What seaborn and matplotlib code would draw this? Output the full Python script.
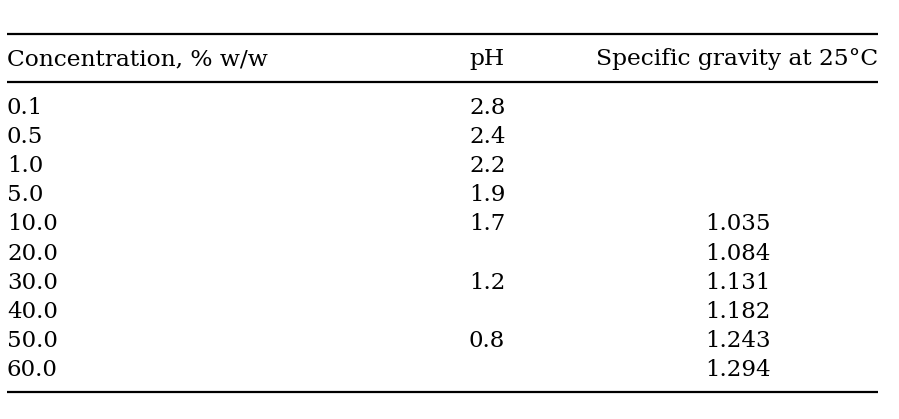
import matplotlib
matplotlib.use('Agg')
import matplotlib.pyplot as plt
import pandas as pd
import seaborn as sns

# table contents
headers = ['Concentration, % w/w', 'pH', 'Specific gravity at 25°C']
concentration = ['0.1', '0.5', '1.0', '5.0', '10.0', '20.0', '30.0', '40.0', '50.0', '60.0']
ph_values = ['2.8', '2.4', '2.2', '1.9', '1.7', '', '1.2', '', '0.8', '']
specific_gravity = ['', '', '', '', '1.035', '1.084', '1.131', '1.182', '1.243', '1.294']

table_df = pd.DataFrame({headers[0]: concentration,
                         headers[1]: ph_values,
                         headers[2]: specific_gravity})

sns.set_theme(style='white')
plt.rcParams['font.family'] = ['DejaVu Serif']
plt.rcParams['text.color'] = 'black'

fig = plt.figure(figsize=(8.99, 4.19), dpi=100)
ax = fig.add_axes([0, 0, 1, 1])
ax.set_xlim(0, 899)
ax.set_ylim(419, 0)
ax.set_axis_off()

fs = 16.5
head_fs = 16.8
left, right = 7, 878
col_x = [7, 469, 737.5]
col_ha = ['left', 'left', 'center']
header_base = 65
row_base0 = 114
row_step = 29.1

# rules
for y in [34, 82, 392]:
    ax.plot([left, right], [y, y], color='black', lw=1.6, solid_capstyle='butt')

# header
ax.text(col_x[0], header_base, headers[0], ha='left', va='baseline', fontsize=head_fs)
ax.text(col_x[1], header_base, headers[1], ha='left', va='baseline', fontsize=head_fs)
ax.text(right, header_base, headers[2], ha='right', va='baseline', fontsize=head_fs)

# body
for i, row in table_df.iterrows():
    y = row_base0 + i * row_step
    for j, col in enumerate(headers):
        if row[col]:
            ax.text(col_x[j], y, row[col], ha=col_ha[j], va='baseline', fontsize=fs)

fig.savefig('out.png', dpi=100, facecolor='white')
